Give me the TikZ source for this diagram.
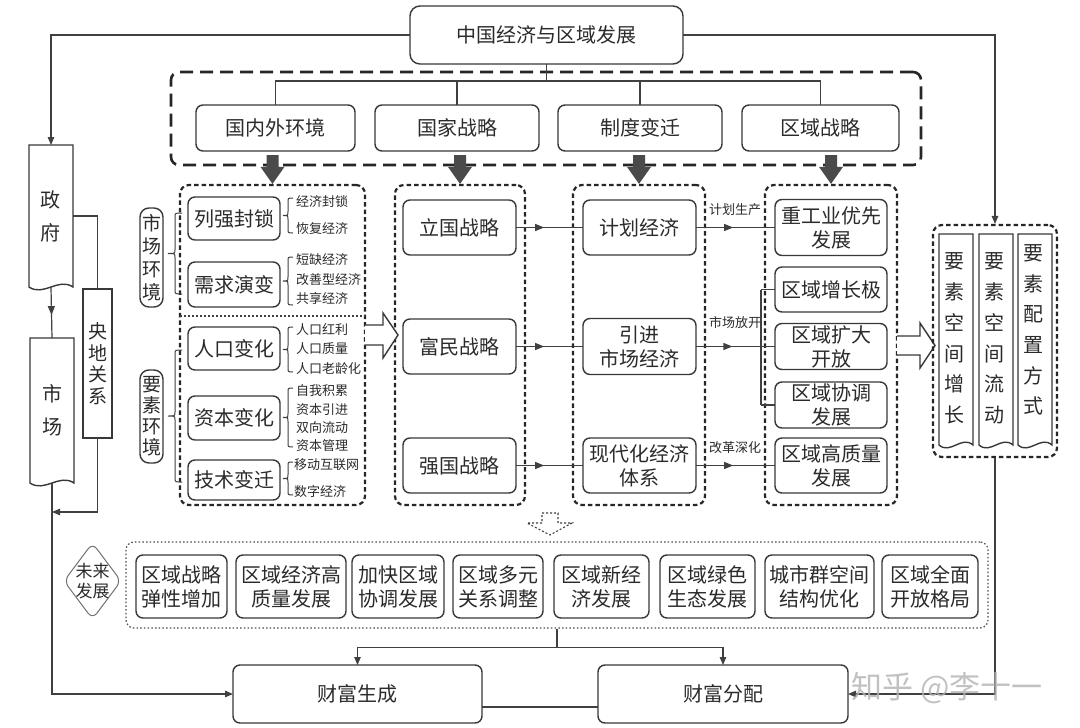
\documentclass[tikz,border=0pt]{standalone}
\usepackage{fontspec}
\setmainfont{Noto Sans CJK SC}
\usetikzlibrary{calc,arrows.meta,decorations.markings}
\definecolor{bdr}{HTML}{383838}
\definecolor{txt}{HTML}{2B2B2B}
\definecolor{ln}{HTML}{404040}
\definecolor{thk}{HTML}{4A4A4A}
\newcommand\fsz[2]{\fontsize{#1}{#2}\selectfont}
\newcommand\docshape[1]{\draw[bline] (#1.north west) -- (#1.north east) -- (#1.south east) .. controls ($(#1.south east)!0.33!(#1.south west)+(0,-10)$) and ($(#1.south west)!0.33!(#1.south east)+(0,10)$) .. (#1.south west) -- cycle;}
\newcommand\brc[4]{\draw[brline] (#1,#2) .. controls ({(#1+#4)/2},#2) .. ({(#1+#4)/2},{#2+4}) -- ({(#1+#4)/2},{(#2+#3)/2-4}) .. controls ({(#1+#4)/2},{(#2+#3)/2}) .. (#4,{(#2+#3)/2}) .. controls ({(#1+#4)/2},{(#2+#3)/2}) .. ({(#1+#4)/2},{(#2+#3)/2+4}) -- ({(#1+#4)/2},{#3-4}) .. controls ({(#1+#4)/2},#3) .. (#1,#3);}
\newcommand\fatarr[2]{\fill[thk] ($(#1)+(-6,0)$) -- ($(#1)+(6,0)$) -- ($(#2)+(6,-17)$) -- ($(#2)+(12,-17)$) -- (#2) -- ($(#2)+(-12,-17)$) -- ($(#2)+(-6,-17)$) -- cycle;}
\begin{document}
\begin{tikzpicture}[x=1pt,y=-1pt,
 sz/.style n args={2}{minimum width=#1pt,minimum height=#2pt},
 rbox/.style={draw=bdr,line width=1.4pt,rounded corners=7pt,align=center,inner sep=0pt,outer sep=0pt,text=txt,font=\fsz{20}{24}},
 sqbox/.style={draw=bdr,line width=1.4pt,align=center,inner sep=0pt,outer sep=0pt,text=txt},
 docn/.style={draw=none,align=center,inner sep=0pt,outer sep=0pt,text=txt},
 vtxt/.style={align=center,inner sep=0pt,text=txt,font=\fsz{20}{30.7}},
 bline/.style={draw=bdr,line width=1.4pt},
 brline/.style={draw=ln,line width=1pt},
 conn/.style={draw=ln,line width=1.2pt},
 arr/.style={conn,-{Triangle[length=8pt,width=6.5pt]}},
 midarrow/.style={postaction={decorate},decoration={markings,mark=at position #1 with {\arrow{Triangle[length=9pt,width=7pt]}}}},
 bigdash/.style={draw=black!85,line width=2.6pt,dash pattern=on 13pt off 7pt,rounded corners=8pt,inner sep=0pt},
 coldash/.style={draw=black!85,line width=2.2pt,dash pattern=on 4.5pt off 3pt,rounded corners=9pt,inner sep=0pt},
 futdash/.style={draw=black!70,line width=1.2pt,dash pattern=on 1.5pt off 2.2pt,rounded corners=8pt,inner sep=0pt},
 item/.style={anchor=west,inner sep=0pt,text=txt,font=\fsz{13}{14}},
 lbl/.style={inner sep=0pt,text=txt,font=\fsz{13}{14}},
]
\useasboundingbox (0,0) rectangle (1080,728);
\fill[white] (0,0) rectangle (1080,728);

% top
\node[rbox,sz={273}{58},rounded corners=10pt] (top) at (546.5,35) {中国经济与区域发展};
\node[bigdash,sz={750}{93}] (envbox) at (546,118.5) {};
\node[rbox,sz={159}{46}] (b1) at (275.5,128) {国内外环境};
\node[rbox,sz={164}{46}] (b2) at (457,128) {国家战略};
\node[rbox,sz={164}{46}] (b3) at (640,128) {制度变迁};
\node[rbox,sz={157}{46}] (b4) at (820.5,128) {区域战略};
\coordinate (tj) at ($(top.south)+(0,17)$);
\draw[conn] (top.south) -- (tj);
\draw[conn] (b1.north) |- (tj -| b4.north) -- (b4.north);
\draw[conn] (b2.north) -- (b2.north |- tj);
\draw[conn] (b3.north) -- (b3.north |- tj);

% columns
\node[coldash,sz={185}{320}] (col1) at (272.5,345) {};
\node[coldash,sz={130}{320}] (col2) at (460,345) {};
\node[coldash,sz={132}{320}] (col3) at (639,345) {};
\node[coldash,sz={132}{320}] (col4) at (831,345) {};
\foreach \c/\b in {col1/b1,col2/b2,col3/b3,col4/b4}{
  \coordinate (\c s) at ($(\c.north |- \b.south)+(0,4)$);
  \fatarr{\c s}{\c.north}
}

% column 1
\node[rbox,sz={23}{99},rounded corners=9pt,font=\fsz{19}{23}] (mkt) at (151.5,257.5) {市\\场\\环\\境};
\node[rbox,sz={23}{93},rounded corners=9pt,font=\fsz{19}{21}] (fac) at (151.5,416.5) {要\\素\\环\\境};
\node[rbox,sz={92}{43}] (e1) at (234,218.5) {列强封锁};
\node[rbox,sz={92}{45}] (e2) at (234,284.5) {需求演变};
\node[rbox,sz={92}{43}] (e3) at (234,348.5) {人口变化};
\node[rbox,sz={92}{44}] (e4) at (234,418) {资本变化};
\node[rbox,sz={92}{40}] (e5) at (234,480) {技术变迁};
\draw[draw=ln,line width=1.2pt,dash pattern=on 2pt off 2pt] (180,316) -- (365,316);
\brc{182}{213}{294}{168}
\brc{182}{350}{482}{168}
\brc{293}{198}{233}{283}
\brc{293}{257}{305}{283}
\brc{293}{327}{372}{283}
\brc{293}{388}{447}{283}
\brc{293}{462}{495}{283}
\node[item] (i11) at (296,202) {经济封锁};
\node[item] (i12) at (296,229) {恢复经济};
\node[item] (i21) at (296,260) {短缺经济};
\node[item] (i22) at (296,280) {改善型经济};
\node[item] (i23) at (296,299) {共享经济};
\node[item] (i31) at (296,330) {人口红利};
\node[item] (i32) at (296,349) {人口质量};
\node[item] (i33) at (296,369) {人口老龄化};
\node[item] (i41) at (296,391) {自我积累};
\node[item] (i42) at (296,410) {资本引进};
\node[item] (i43) at (296,428) {双向流动};
\node[item] (i44) at (296,446) {资本管理};
\node[item] (i51) at (294,465) {移动互联网};
\node[item] (i52) at (294,492) {数字经济};

% hollow arrow col1 -> col2
\draw[bline,fill=white] (365,325) -- (383,325) -- (383,313) -- (398,335) -- (383,358) -- (383,345) -- (365,345);

% column 2
\node[rbox,sz={113}{55}] (s1) at (459.5,227.5) {立国战略};
\node[rbox,sz={113}{55}] (s2) at (459.5,346.5) {富民战略};
\node[rbox,sz={113}{55}] (s3) at (459.5,465.5) {强国战略};
% column 3
\node[rbox,sz={113}{55}] (m1) at (639.5,227.5) {计划经济};
\node[rbox,sz={113}{56}] (m2) at (639.5,346.5) {引进\\市场经济};
\node[rbox,sz={113}{55}] (m3) at (639.5,465.5) {现代化经济\\体系};
% column 4
\node[rbox,sz={112}{56}] (r1) at (831,227.5) {重工业优先\\发展};
\node[rbox,sz={112}{45}] (r2) at (831,289.5) {区域增长极};
\node[rbox,sz={112}{46}] (r3) at (831,346.5) {区域扩大\\开放};
\node[rbox,sz={112}{46}] (r4) at (831,405) {区域协调\\发展};
\node[rbox,sz={112}{55}] (r5) at (831,465.5) {区域高质量\\发展};

\draw[conn,midarrow=0.42] (s1.east) -- (m1.west);
\draw[conn,midarrow=0.42] (s2.east) -- (m2.west);
\draw[conn,midarrow=0.42] (s3.east) -- (m3.west);
\draw[conn,midarrow=0.47] (m1.east) -- (r1.west);
\coordinate (br) at (761,346.5);
\draw[conn,midarrow=0.56] (m2.east) -- (br);
\draw[conn] (r2.west -| br) -- (r4.west -| br);
\draw[conn] (r2.west -| br) -- (r2.west);
\draw[conn] (br) -- (r3.west);
\draw[conn] (r4.west -| br) -- (r4.west);
\draw[conn,midarrow=0.47] (m3.east) -- (r5.west);
\node[lbl] (l1) at (735,210) {计划生产};
\node[lbl] (l2) at (735,323) {市场放开};
\node[lbl] (l3) at (735,448) {改革深化};

% hollow arrow col4 -> factor box
\draw[bline,fill=white] (897,336) -- (920,336) -- (920,323) -- (935,345.5) -- (920,368) -- (920,355) -- (897,355);

% factor box
\node[coldash,sz={124}{232}] (ys) at (995,341) {};
\node[docn,sz={34}{211}] (d1) at (956,339.5) {};
\node[docn,sz={34}{211}] (d2) at (996,339.5) {};
\node[docn,sz={34}{211}] (d3) at (1035,339.5) {};
\docshape{d1}
\docshape{d2}
\docshape{d3}
\node[vtxt] (t1) at (954,338.5) {要\\素\\空\\间\\增\\长};
\node[vtxt] (t2) at (994,338.5) {要\\素\\空\\间\\流\\动};
\node[vtxt] (t3) at (1033,330) {要\\素\\配\\置\\方\\式};

% left side
\node[docn,sz={44}{142},font=\fsz{20}{33}] (zf) at (51,216) {政\\府};
\docshape{zf}
\node[docn,sz={44}{145},font=\fsz{20}{33}] (sc) at (52,410.5) {市\\场};
\docshape{sc}
\node[sqbox,sz={29}{149},font=\fsz{19}{21.5}] (yd) at (97.5,363.5) {央\\地\\关\\系};
\draw[conn,midarrow=0.55] (zf.south) -- (sc.north);
\draw[conn] (zf.east) -| (yd.north);
\draw[arr] (yd.south) |- ($(sc.south)+(0,29)$);
\draw[arr] (top.west) -| (zf.north);
\draw[arr] (top.east) -| (ys.north);

% dotted down arrow
\draw[draw=ln,line width=1.1pt,dash pattern=on 2pt off 2pt] (542,513) -- (558,513) -- (558,523) -- (572,523) -- (550,535) -- (527,523) -- (542,523) -- cycle;

% future
\node[futdash,sz={862}{86}] (fut) at (557,585) {};
\node[inner sep=0pt,align=center,text=txt,font=\fsz{17}{20}] (dia) at (92.5,581) {未来\\发展};
\draw[draw=black!55,line width=1pt,rounded corners=7pt] ($(dia)+(0,-38)$) -- ($(dia)+(28.5,0)$) -- ($(dia)+(0,38)$) -- ($(dia)+(-28.5,0)$) -- cycle;
\node[rbox,sz={91}{63}] (f1) at (181.5,586.5) {区域战略\\弹性增加};
\node[rbox,sz={110}{63}] (f2) at (291,586.5) {区域经济高\\质量发展};
\node[rbox,sz={92}{63}] (f3) at (398,586.5) {加快区域\\协调发展};
\node[rbox,sz={90}{63}] (f4) at (498,586.5) {区域多元\\关系调整};
\node[rbox,sz={95}{63}] (f5) at (601.5,586.5) {区域新经\\济发展};
\node[rbox,sz={95}{63}] (f6) at (707.5,586.5) {区域绿色\\生态发展};
\node[rbox,sz={109}{63}] (f7) at (819.5,586.5) {城市群空间\\结构优化};
\node[rbox,sz={96}{63}] (f8) at (930,586.5) {区域全面\\开放格局};

% bottom
\node[rbox,sz={249}{58}] (cf) at (357.5,694) {财富生成};
\node[rbox,sz={250}{58}] (fp) at (723,694) {财富分配};
\coordinate (fj) at ($(fut.south)+(0,19)$);
\draw[conn] (fut.south) -- (fj);
\draw[arr] (fj) -| (cf.north);
\draw[arr] (fj) -| (fp.north);
\draw[arr] (sc.south) |- (cf.west);
\draw[conn] ([yshift=-13pt]cf.east) -- ([yshift=-13pt]fp.west);
\draw[arr] (ys.south) |- (fp.east);

\node[anchor=west,inner sep=0pt,text=black!30,opacity=0.8,font=\fsz{31}{33}] (wm) at (851,688) {知乎 @李十一};
\end{tikzpicture}
\end{document}
